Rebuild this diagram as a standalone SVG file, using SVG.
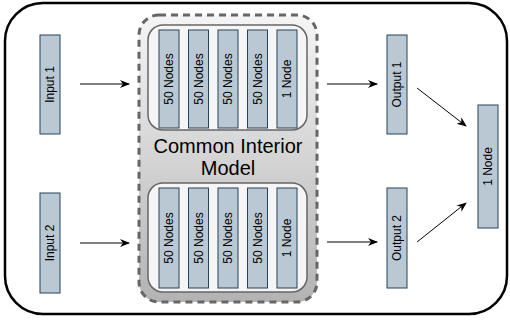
<svg xmlns="http://www.w3.org/2000/svg" width="510" height="321" viewBox="0 0 510 321">
<style>
.col{fill:#bac8d3;stroke:#23445d;stroke-width:1}
.lbl{font-family:"Liberation Sans",Arial,sans-serif;font-size:12px;fill:#000;text-anchor:middle;dominant-baseline:central}
.inner{fill:#f5f5f5;stroke:#666;stroke-width:1.5}
.conn{stroke:#000;stroke-width:1;fill:none;marker-end:url(#ah)}
</style>
<defs>
<linearGradient id="g" x1="0" y1="0" x2="0" y2="1">
<stop offset="0" stop-color="#f5f5f5"/>
<stop offset="1" stop-color="#b3b3b3"/>
</linearGradient>
<marker id="ah" viewBox="0 0 10 10" refX="9" refY="5" markerWidth="10" markerHeight="10" markerUnits="userSpaceOnUse" orient="auto">
<path d="M0,1 L10,5 L0,9 L3,5 Z" fill="#000"/>
</marker>
</defs>
<rect x="5" y="3" width="502" height="311" rx="38" ry="38" fill="#fff" stroke="#000" stroke-width="2.5"/>
<g id="container">
<rect x="139" y="15" width="178" height="287" rx="20" ry="20" fill="url(#g)" stroke="#666" stroke-width="3" stroke-dasharray="7,5"/>
<text x="228" y="153" font-family="'Liberation Sans',Arial,sans-serif" font-size="20" text-anchor="middle">Common Interior</text>
<text x="228" y="175" font-family="'Liberation Sans',Arial,sans-serif" font-size="20" text-anchor="middle">Model</text>
</g>
<g id="top-model">
<rect class="inner" x="148" y="25" width="159" height="105" rx="15" ry="15"/>
<g id="t1"><rect class="col" x="159" y="30" width="20" height="98"/><text class="lbl" transform="translate(169,79) rotate(-90)">50 Nodes</text></g>
<g id="t2"><rect class="col" x="188.5" y="30" width="20" height="98"/><text class="lbl" transform="translate(198.5,79) rotate(-90)">50 Nodes</text></g>
<g id="t3"><rect class="col" x="218" y="30" width="20" height="98"/><text class="lbl" transform="translate(228,79) rotate(-90)">50 Nodes</text></g>
<g id="t4"><rect class="col" x="247.5" y="30" width="20" height="98"/><text class="lbl" transform="translate(257.5,79) rotate(-90)">50 Nodes</text></g>
<g id="t5"><rect class="col" x="277" y="30" width="20" height="98"/><text class="lbl" transform="translate(287,79) rotate(-90)">1 Node</text></g>
</g>
<g id="bottom-model">
<rect class="inner" x="148" y="183" width="159" height="109" rx="15" ry="15"/>
<g id="b1"><rect class="col" x="159" y="188" width="20" height="100"/><text class="lbl" transform="translate(169,238) rotate(-90)">50 Nodes</text></g>
<g id="b2"><rect class="col" x="188.5" y="188" width="20" height="100"/><text class="lbl" transform="translate(198.5,238) rotate(-90)">50 Nodes</text></g>
<g id="b3"><rect class="col" x="218" y="188" width="20" height="100"/><text class="lbl" transform="translate(228,238) rotate(-90)">50 Nodes</text></g>
<g id="b4"><rect class="col" x="247.5" y="188" width="20" height="100"/><text class="lbl" transform="translate(257.5,238) rotate(-90)">50 Nodes</text></g>
<g id="b5"><rect class="col" x="277" y="188" width="20" height="100"/><text class="lbl" transform="translate(287,238) rotate(-90)">1 Node</text></g>
</g>
<g id="input1"><rect class="col" x="40" y="35" width="20" height="99"/><text class="lbl" transform="translate(50,84.5) rotate(-90)">Input 1</text></g>
<g id="input2"><rect class="col" x="40" y="193" width="20" height="100"/><text class="lbl" transform="translate(50,243) rotate(-90)">Input 2</text></g>
<g id="output1"><rect class="col" x="387" y="35" width="20" height="99"/><text class="lbl" transform="translate(397,84.5) rotate(-90)">Output 1</text></g>
<g id="output2"><rect class="col" x="387" y="188" width="20" height="100"/><text class="lbl" transform="translate(397,238) rotate(-90)">Output 2</text></g>
<g id="final"><rect class="col" x="478" y="105" width="20" height="123"/><text class="lbl" transform="translate(488,166.5) rotate(-90)">1 Node</text></g>
<g id="connectors">
<path class="conn" d="M80,84 L129,84"/>
<path class="conn" d="M80,243 L129,243"/>
<path class="conn" d="M327,84 L377,84"/>
<path class="conn" d="M327,242 L377,242"/>
<path class="conn" d="M417,88 L466,126"/>
<path class="conn" d="M417,242 L466,203"/>
</g>
</svg>
